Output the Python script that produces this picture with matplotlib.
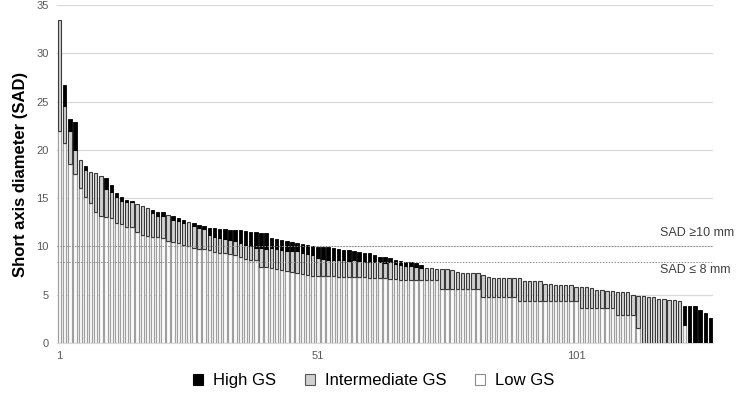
import numpy as np
import matplotlib
matplotlib.use("Agg")
import matplotlib.pyplot as plt
from matplotlib.patches import Patch

plt.rcParams['font.family'] = ['Liberation Sans', 'DejaVu Sans']

# Total short axis diameter per lesion (sorted, descending)
sad_total = [
    33.4, 26.7, 23.2, 22.9, 19.0, 18.3, 17.7, 17.6, 17.3, 17.05,
    16.4, 15.5, 15.1, 14.8, 14.75, 14.4, 14.2, 14.0, 13.8, 13.6,
    13.6, 13.3, 13.1, 12.9, 12.7, 12.55, 12.4, 12.25, 12.15, 11.9,
    11.9, 11.85, 11.8, 11.75, 11.75, 11.7, 11.6, 11.5, 11.45, 11.4,
    11.35, 10.9, 10.75, 10.65, 10.6, 10.5, 10.4, 10.3, 10.2, 10.05,
    9.97, 9.9, 9.9, 9.8, 9.75, 9.65, 9.63, 9.55, 9.45, 9.3,
    9.28, 9.1, 8.95, 8.87, 8.85, 8.6, 8.52, 8.42, 8.4, 8.25,
    8.07, 7.8, 7.75, 7.7, 7.7, 7.65, 7.6, 7.35, 7.3, 7.3,
    7.28, 7.25, 7.0, 6.8, 6.78, 6.75, 6.75, 6.72, 6.7, 6.7,
    6.45, 6.42, 6.4, 6.38, 6.1, 6.08, 6.05, 6.02, 6.0, 6.0,
    5.85, 5.8, 5.75, 5.7, 5.5, 5.45, 5.4, 5.35, 5.3, 5.3,
    5.25, 5.0, 4.9, 4.85, 4.8, 4.75, 4.6, 4.55, 4.5, 4.45,
    4.3, 3.85, 3.85, 3.85, 3.4, 3.1, 2.6,
]

# Low GS portion (bottom segment)
low_gs = [
    22.0, 20.7, 18.5, 17.5, 16.0, 15.1, 14.5, 13.6, 13.1, 13.0,
    12.9, 12.4, 12.3, 12.0, 12.0, 11.5, 11.2, 11.1, 11.0, 10.95,
    10.9, 10.6, 10.5, 10.4, 10.1, 10.0, 9.8, 9.75, 9.7, 9.6,
    9.4, 9.3, 9.3, 9.2, 9.1, 8.9, 8.7, 8.6, 8.6, 7.9,
    7.85, 7.8, 7.7, 7.6, 7.5, 7.4, 7.2, 7.1, 7.0, 6.95,
    6.95, 6.9, 6.9, 6.9, 6.85, 6.85, 6.85, 6.8, 6.8, 6.8,
    6.75, 6.75, 6.7, 6.7, 6.6, 6.6, 6.55, 6.55, 6.55, 6.5,
    6.5, 6.5, 6.5, 6.5, 5.55, 5.55, 5.55, 5.55, 5.55, 5.55,
    5.55, 5.55, 4.8, 4.8, 4.8, 4.8, 4.8, 4.8, 4.8, 4.3,
    4.3, 4.3, 4.3, 4.3, 4.3, 4.3, 4.3, 4.3, 4.3, 4.3,
    4.3, 3.6, 3.6, 3.6, 3.6, 3.6, 3.6, 3.6, 2.9, 2.9,
    2.9, 2.9, 1.6, 0, 0, 0, 0, 0, 0, 0,
    0, 1.9, 0, 0, 0, 0, 0,
]

# High GS portion (top segment)
high_gs = [
    0, 2.2, 1.3, 2.9, 0, 0.35, 0, 0, 0, 1.1,
    0.8, 0.35, 0.35, 0.2, 0.2, 0, 0, 0, 0.35, 0.4,
    0.4, 0, 0.35, 0.3, 0.3, 0, 0.25, 0.3, 0.3, 0.7,
    0.9, 1.0, 1.0, 1.1, 1.2, 1.3, 1.4, 1.5, 1.6, 1.6,
    1.6, 1.1, 1.0, 1.0, 1.1, 1.0, 0.9, 1.0, 1.0, 0.9,
    1.2, 1.2, 1.3, 1.2, 1.2, 1.1, 1.1, 1.0, 1.0, 0.9,
    0.9, 0.7, 0.6, 0.6, 0.5, 0.4, 0.4, 0.4, 0.4, 0.4,
    0.3, 0, 0, 0, 0, 0, 0, 0, 0, 0,
    0, 0, 0, 0, 0, 0, 0, 0, 0, 0,
    0, 0, 0, 0, 0, 0, 0, 0, 0, 0,
    0, 0, 0, 0, 0, 0, 0, 0, 0, 0,
    0, 0, 0, 0, 0, 0, 0, 0, 0, 0,
    0, 1.95, 3.85, 3.85, 3.4, 3.1, 2.6,
]

x_tick_labels = ["1", "51", "101"]
y_ticks = [0, 5, 10, 15, 20, 25, 30, 35]
threshold_values = [10, 8.4]
threshold_labels = ["SAD \u226510 mm", "SAD \u2264 8 mm"]
legend_labels = ["High GS", "Intermediate GS", "Low GS"]

total = np.array(sad_total)
low = np.array(low_gs)
high = np.array(high_gs)
inter = total - low - high
x = np.arange(1, len(total) + 1)

fig = plt.figure(figsize=(7.4, 4.01), dpi=100)
ax = fig.add_axes([0.077, 0.1446, 0.8865, 0.843])

w = 0.66
c_low_face, c_low_edge = "white", "#a0a0a0"
c_int_face, c_int_edge = "#d0d0d0", "#3a3a3a"
c_high = "black"

m = low > 0.001
ax.bar(x[m], low[m], width=w, color=c_low_face, edgecolor=c_low_edge, linewidth=0.9, zorder=3)
m = inter > 0.001
ax.bar(x[m], inter[m], bottom=low[m], width=w, color=c_int_face, edgecolor=c_int_edge, linewidth=0.8, zorder=3)
m = high > 0.001
ax.bar(x[m], high[m], bottom=(low + inter)[m], width=w, color=c_high, edgecolor=c_high, linewidth=0.6, zorder=3)

ax.set_xlim(0.5, len(total) + 0.5)
ax.set_ylim(0, 35)
ax.set_yticks(y_ticks)
ax.set_xticks([int(s) for s in x_tick_labels])
ax.set_xticklabels(x_tick_labels)
ax.tick_params(axis='both', length=0, labelsize=8, colors="#595959", pad=6)
ax.grid(axis='y', color="#d9d9d9", linewidth=0.9, zorder=0)
for s in ["top", "right", "left"]:
    ax.spines[s].set_visible(False)
ax.spines["bottom"].set_color("#d9d9d9")

for val in threshold_values:
    ax.axhline(val, color="#8c8c8c", linestyle=(0, (1.5, 1.5)), linewidth=0.7, zorder=4)

ax.text(1.032, 10.0 + 1.4, threshold_labels[0], transform=ax.get_yaxis_transform(),
        fontsize=9, color="#404040", ha="right", va="center", clip_on=False)
ax.text(1.026, 8.4 - 0.8, threshold_labels[1], transform=ax.get_yaxis_transform(),
        fontsize=9, color="#404040", ha="right", va="center", clip_on=False)

ax.set_ylabel("Short axis diameter (SAD)", fontsize=12, fontweight="bold", color="black", labelpad=6)

handles = [
    Patch(facecolor=c_high, edgecolor=c_high, linewidth=0.8),
    Patch(facecolor=c_int_face, edgecolor="#555555", linewidth=0.8),
    Patch(facecolor="white", edgecolor="#8c8c8c", linewidth=0.8),
]
fig.legend(handles, legend_labels, loc="center", bbox_to_anchor=(0.505, 0.05), ncol=3,
           frameon=False, fontsize=12, handlelength=0.6, handleheight=0.6,
           handletextpad=0.6, columnspacing=1.7)

fig.savefig("out.png", dpi=100)
